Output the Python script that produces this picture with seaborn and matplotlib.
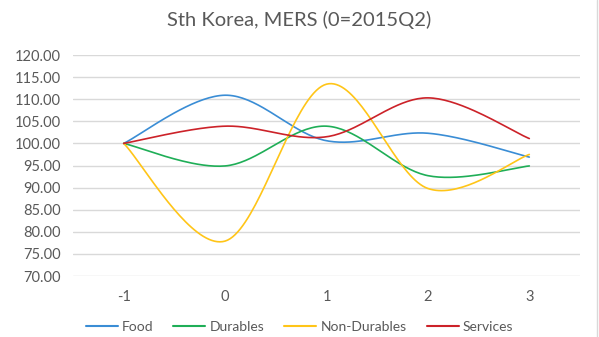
import numpy as np
import pandas as pd
import matplotlib
matplotlib.use("Agg")
import matplotlib.pyplot as plt
import seaborn as sns
from matplotlib.lines import Line2D

quarters = [-1, 0, 1, 2, 3]
food = [100.0, 110.9, 100.6, 102.3, 96.9]
durables = [100.0, 94.9, 103.9, 92.7, 94.9]
non_durables = [100.0, 77.9, 113.4, 89.8, 97.5]
services = [100.0, 103.9, 101.5, 110.3, 101.1]
series_names = ["Food", "Durables", "Non-Durables", "Services"]
colors = ["#3A8DD5", "#1FAE57", "#FFC518", "#CC2229"]
yticks = [70, 75, 80, 85, 90, 95, 100, 105, 110, 115, 120]


def smooth(xs, ys, n=40):
    """Excel-like smoothed line: cubic Bezier segments with Catmull-Rom control points."""
    xs = np.asarray(xs, float)
    ys = np.asarray(ys, float)
    pts = np.column_stack([xs, ys])
    out = []
    m = len(pts)
    for i in range(m - 1):
        p0 = pts[i - 1] if i > 0 else pts[i]
        p1 = pts[i]
        p2 = pts[i + 1]
        p3 = pts[i + 2] if i + 2 < m else pts[i + 1]
        c1 = p1 + (p2 - p0) / 6.0
        c2 = p2 - (p3 - p1) / 6.0
        t = np.linspace(0, 1, n, endpoint=(i == m - 2))[:, None]
        b = ((1 - t) ** 3) * p1 + 3 * ((1 - t) ** 2) * t * c1 + 3 * (1 - t) * t ** 2 * c2 + t ** 3 * p2
        out.append(b)
    return np.vstack(out)


frames = []
for name, vals in zip(series_names, [food, durables, non_durables, services]):
    c = smooth(quarters, vals)
    frames.append(pd.DataFrame({"x": c[:, 0], "y": c[:, 1], "series": name}))
df = pd.concat(frames, ignore_index=True)

sns.set_theme(style="white")
plt.rcParams["font.family"] = ["Lato", "DejaVu Sans"]

fig = plt.figure(figsize=(5.99, 3.37), dpi=100)
ax = fig.add_axes([73 / 599, 1 - 276 / 337, (580 - 73) / 599, (276 - 55) / 337])

sns.lineplot(data=df, x="x", y="y", hue="series", hue_order=series_names,
             palette=colors, sort=False, estimator=None, units="series",
             linewidth=1.2, ax=ax, legend=False)

ax.set_xlim(-1.5, 3.5)
ax.set_ylim(70, 120)
ax.set_yticks(yticks)
ax.set_yticklabels([f"{v:.2f}" for v in yticks])
ax.set_xticks(quarters)
ax.set_xticklabels([str(q) for q in quarters])
ax.grid(axis="y", color="#D9D9D9", linewidth=1)
ax.set_axisbelow(True)
for s in ax.spines.values():
    s.set_visible(False)
ax.tick_params(axis="both", length=0, colors="#595959", labelsize=10.5)
ax.tick_params(axis="y", pad=9)
ax.tick_params(axis="x", pad=10)
ax.set_xlabel("")
ax.set_ylabel("")

fig.text(0.5, 1 - 20 / 337, "Sth Korea, MERS (0=2015Q2)", ha="center", va="center",
         fontsize=14.5, color="#595959")

handles = [Line2D([0], [0], color=c, lw=1.5) for c in colors]
fig.legend(handles, series_names, loc="center", bbox_to_anchor=(0.5, 1 - 327 / 337),
           ncol=4, frameon=False, fontsize=10, labelcolor="#595959",
           handlelength=2.3, columnspacing=1.45, handletextpad=0.3)

# right edge of chart border
fig.add_artist(Line2D([0.997, 0.997], [0, 1], transform=fig.transFigure,
                      color="#D9D9D9", linewidth=1))

fig.savefig("out.png", dpi=100)
